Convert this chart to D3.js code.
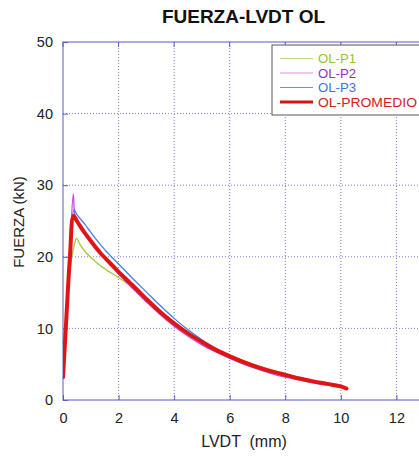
<!DOCTYPE html>
<html>
<head>
<meta charset="utf-8">
<script src="https://cdn.jsdelivr.net/npm/d3@7"></script>
<style>
  html, body { margin: 0; padding: 0; background: #fff; }
  svg { display: block; font-family: "Liberation Sans", Arial, sans-serif; }
</style>
</head>
<body>
<svg id="chart" width="419" height="457"></svg>
<script>
const title = "FUERZA-LVDT OL";
const xLabel = "LVDT  (mm)";
const yLabel = "FUERZA (kN)";
const xTicks = [0, 2, 4, 6, 8, 10, 12];
const yTicks = [0, 10, 20, 30, 40, 50];
const seriesNames = ["OL-P1", "OL-P2", "OL-P3", "OL-PROMEDIO"];

const p1X = [0, 0.1, 0.2, 0.3, 0.4, 0.49, 0.6, 0.8, 1.0, 1.3, 1.63, 2.0, 2.5, 3.0, 3.5, 4.0, 4.5, 5.0, 5.5, 6.0, 6.5, 7.0, 7.5, 8.0, 8.5, 9.0, 9.5, 10.0, 10.1];
const p1Y = [3.3, 10, 16.5, 19.5, 21.5, 22.6, 21.8, 20.7, 19.9, 18.9, 18.0, 17.1, 15.7, 14.1, 12.4, 10.8, 9.4, 8.2, 7.2, 6.3, 5.5, 4.8, 4.2, 3.7, 3.2, 2.7, 2.3, 1.95, 1.8];

const p2X = [0, 0.1, 0.25, 0.37, 0.42, 0.5, 0.7, 1.0, 1.5, 2.0, 2.5, 3.0, 3.5, 4.0, 4.5, 5.0, 5.5, 6.0, 6.5, 7.0, 7.5, 8.0, 8.5, 9.0, 9.5, 10.0, 10.15];
const p2Y = [3.0, 10, 21, 28.8, 26.0, 25.2, 23.9, 22.1, 19.7, 17.6, 15.6, 13.7, 11.9, 10.3, 8.9, 7.7, 6.7, 5.8, 5.0, 4.3, 3.7, 3.2, 2.8, 2.4, 2.1, 1.8, 1.6];

const p3X = [0, 0.1, 0.25, 0.4, 0.5, 0.8, 1.0, 1.5, 2.0, 2.5, 3.0, 3.5, 4.0, 4.5, 5.0, 5.5, 6.0, 6.5, 7.0, 7.5, 8.0, 8.5, 9.0, 9.5, 10.0, 10.1];
const p3Y = [3.2, 10, 20.5, 26.6, 25.9, 24.5, 23.4, 21.0, 19.0, 17.0, 15.1, 13.2, 11.4, 9.8, 8.4, 7.2, 6.1, 5.2, 4.5, 3.9, 3.4, 2.9, 2.5, 2.2, 1.9, 1.7];

const avgX = [0, 0.1, 0.25, 0.38, 0.5, 0.7, 1.0, 1.33, 1.7, 2.0, 2.4, 2.77, 3.0, 3.5, 4.0, 4.5, 5.0, 5.5, 6.0, 6.5, 7.0, 7.5, 8.0, 8.5, 9.0, 9.5, 10.0, 10.2];
const avgY = [3.2, 10, 20, 25.7, 25.0, 23.8, 22.2, 20.6, 19.1, 17.9, 16.4, 15.0, 14.1, 12.3, 10.7, 9.3, 8.1, 7.0, 6.1, 5.3, 4.6, 4.0, 3.5, 3.0, 2.6, 2.25, 1.9, 1.6];

const svg = d3.select("#chart");
const mLeft = 63, mTop = 42, mRight = 452, mBottom = 400;

const x = d3.scaleLinear().domain([0, 14]).range([mLeft, mRight]);
const y = d3.scaleLinear().domain([0, 50]).range([mBottom, mTop]);

const gridColor = "#7a7ad8";
const axisColor = "#5a5ac8";

// grid
const grid = svg.append("g");
grid.selectAll("line.vx").data(xTicks.filter(d => d > 0)).enter().append("line")
  .attr("x1", d => x(d)).attr("x2", d => x(d)).attr("y1", mTop).attr("y2", mBottom)
  .attr("stroke", gridColor).attr("stroke-width", 1).attr("stroke-dasharray", "1,2");
grid.selectAll("line.hy").data(yTicks.filter(d => d > 0 && d < 50)).enter().append("line")
  .attr("y1", d => y(d)).attr("y2", d => y(d)).attr("x1", mLeft).attr("x2", mRight)
  .attr("stroke", gridColor).attr("stroke-width", 1).attr("stroke-dasharray", "1,2");

// frame
svg.append("rect").attr("x", mLeft).attr("y", mTop).attr("width", mRight - mLeft).attr("height", mBottom - mTop)
  .attr("fill", "none").attr("stroke", axisColor).attr("stroke-width", 1);

// axes
const xAxis = d3.axisBottom(x).tickValues(xTicks).tickSize(-5).tickPadding(13).tickFormat(d3.format("d"));
const gx = svg.append("g").attr("transform", `translate(0,${mBottom})`).call(xAxis);
gx.select(".domain").remove();
gx.selectAll(".tick line").attr("stroke", axisColor);
gx.selectAll(".tick text").attr("font-size", 14.5).attr("fill", "#222").attr("font-family", "Liberation Sans, Arial, sans-serif");

const yAxis = d3.axisLeft(y).tickValues(yTicks).tickSize(-5).tickPadding(10).tickFormat(d3.format("d"));
const gy = svg.append("g").attr("transform", `translate(${mLeft},0)`).call(yAxis);
gy.select(".domain").remove();
gy.selectAll(".tick line").attr("stroke", axisColor);
gy.selectAll(".tick text").attr("font-size", 14.5).attr("fill", "#222").attr("font-family", "Liberation Sans, Arial, sans-serif");

// top ticks
svg.append("g").selectAll("line").data(xTicks).enter().append("line")
  .attr("x1", d => x(d)).attr("x2", d => x(d)).attr("y1", mTop).attr("y2", mTop + 5)
  .attr("stroke", axisColor);

// series
const series = [
  { name: seriesNames[0], xs: p1X, ys: p1Y, color: "#a6c83a", w: 1.3 },
  { name: seriesNames[1], xs: p2X, ys: p2Y, color: "#c24ee0", w: 1.3 },
  { name: seriesNames[2], xs: p3X, ys: p3Y, color: "#3f82e0", w: 1.3 },
  { name: seriesNames[3], xs: avgX, ys: avgY, color: "#e01414", w: 4 }
];
const line = d3.line().x(d => x(d[0])).y(d => y(d[1])).curve(d3.curveCatmullRom.alpha(0.5));
svg.append("clipPath").attr("id", "clip").append("rect")
  .attr("x", mLeft).attr("y", mTop).attr("width", mRight - mLeft).attr("height", mBottom - mTop);
svg.append("g").attr("clip-path", "url(#clip)").selectAll("path").data(series).enter().append("path")
  .attr("d", s => line(s.xs.map((v, i) => [v, s.ys[i]])))
  .attr("fill", "none").attr("stroke", s => s.color).attr("stroke-width", s => s.w)
  .attr("stroke-linejoin", "round").attr("stroke-linecap", "round");

// legend
const legendLine = ["#c2da8c", "#e28ee6", "#6c94c8", "#d41414"];
const legendText = ["#9cc030", "#9232c8", "#3a74d6", "#d42020"];
const lg = svg.append("g");
lg.append("rect").attr("x", 272).attr("y", 45).attr("width", 160).attr("height", 70)
  .attr("fill", "#fff").attr("stroke", "#555").attr("stroke-width", 1);
seriesNames.forEach((n, i) => {
  const cy = 58.5 + i * 14.5;
  lg.append("line").attr("x1", 280).attr("x2", 313).attr("y1", cy).attr("y2", cy)
    .attr("stroke", legendLine[i]).attr("stroke-width", i === 3 ? 3 : 1.2);
  lg.append("text").attr("x", 318).attr("y", cy + 4.7).attr("font-size", 13)
    .attr("textLength", [38, 38, 38, 99][i]).attr("lengthAdjust", "spacingAndGlyphs")
    .attr("fill", legendText[i]).text(n);
});

// labels
svg.append("text").attr("x", 243.5).attr("y", 23).attr("text-anchor", "middle")
  .attr("font-size", 19).attr("font-weight", "bold").attr("fill", "#111").text(title);
svg.append("text").attr("x", 244).attr("y", 447).attr("text-anchor", "middle")
  .attr("font-size", 16).attr("fill", "#222").style("white-space", "pre").text(xLabel);
svg.append("text").attr("transform", "translate(24,222) rotate(-90)").attr("text-anchor", "middle")
  .attr("font-size", 15).attr("fill", "#222").text(yLabel);
</script>
</body>
</html>
